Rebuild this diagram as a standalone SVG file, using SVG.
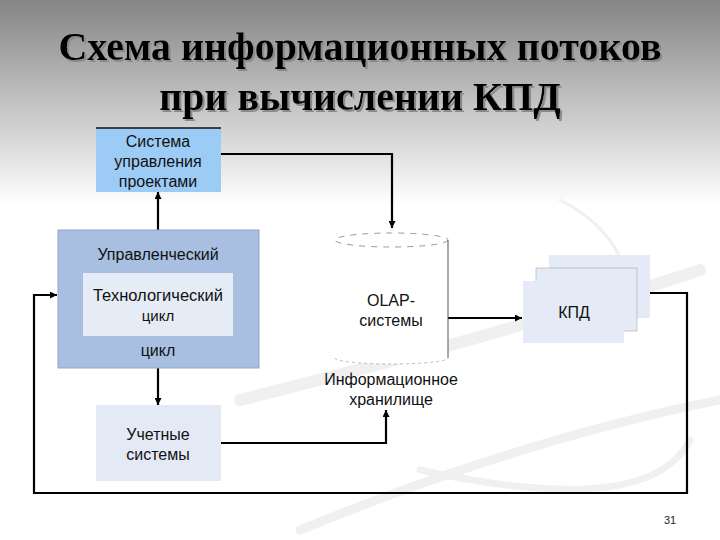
<svg xmlns="http://www.w3.org/2000/svg" width="720" height="540" viewBox="0 0 720 540">
<defs>
<linearGradient id="bg" x1="0" y1="0" x2="0" y2="1">
<stop offset="0" stop-color="#858585"/>
<stop offset="0.38" stop-color="#ffffff"/>
<stop offset="1" stop-color="#ffffff"/>
</linearGradient>
<filter id="sh" x="-5%" y="-20%" width="110%" height="140%">
<feDropShadow dx="2" dy="2" stdDeviation="0.6" flood-color="#8a8a8a"/>
</filter>
<marker id="ah" viewBox="0 0 10 10" refX="10" refY="5" markerWidth="7" markerHeight="7" orient="auto" markerUnits="userSpaceOnUse">
<path d="M0,0 L10,5 L0,10 z" fill="#000"/>
</marker>
<style>
.t{font-family:"Liberation Sans",Arial,sans-serif;font-size:16px;fill:#111;text-anchor:middle}
.title{font-weight:bold;font-size:40px;text-anchor:middle;fill:#000}
.c{fill:none;stroke:#000;stroke-width:2.2}
.deco{fill:none;stroke:#f0f0f0;stroke-linecap:round}
</style>
</defs>
<rect width="720" height="540" fill="url(#bg)"/>
<g id="decor">
<path class="deco" d="M240 400 Q520 330 700 270" stroke-width="12"/>
<path class="deco" d="M300 530 Q520 440 720 400" stroke-width="9"/>
<path class="deco" d="M420 470 Q650 520 690 440" stroke-width="7"/>
<path class="deco" d="M560 200 Q640 240 630 330" stroke-width="3"/>
</g>
<g id="title" filter="url(#sh)" font-family="'Liberation Serif', 'DejaVu Serif', 'Times New Roman', serif">
<text class="title" x="360" y="60">Схема информационных потоков</text>
<text class="title" x="360" y="110">при вычислении КПД</text>
</g>
<g id="connectors">
<path class="c" d="M221 154 H392 V228" marker-end="url(#ah)"/>
<path class="c" d="M158 230 V192" marker-end="url(#ah)"/>
<path class="c" d="M158 368 V405" marker-end="url(#ah)"/>
<path class="c" d="M221 443 H386 V410" marker-end="url(#ah)"/>
<path class="c" d="M448 318 H522" marker-end="url(#ah)"/>
<path class="c" d="M650 293 H687 V493 H34 V295 H57" marker-end="url(#ah)"/>
</g>
<g id="spu">
<rect x="96" y="128" width="125" height="64" fill="#9ccbf5"/>
<line x1="96" y1="128" x2="221" y2="128" stroke="#111" stroke-width="1.5"/>
<text class="t" x="158" y="147">Система</text>
<text class="t" x="158" y="167">управления</text>
<text class="t" x="158" y="187">проектами</text>
</g>
<g id="upr">
<rect x="58" y="230" width="201" height="138" fill="#a8bfe1" stroke="#8fa6c8" stroke-width="1"/>
<text class="t" x="158" y="260">Управленческий</text>
<rect x="83" y="273" width="150" height="63" fill="#e6ecf6"/>
<text class="t" x="158" y="301" style="font-size:16.5px">Технологический</text>
<text class="t" x="158" y="321" style="font-size:15px">цикл</text>
<text class="t" x="158" y="356">цикл</text>
</g>
<g id="uchet">
<rect x="96" y="405" width="125" height="76" fill="#e3eaf5"/>
<text class="t" x="158" y="440">Учетные</text>
<text class="t" x="158" y="460">системы</text>
</g>
<g id="olap">
<path d="M335 240 V358 A56.5 6 0 0 0 448 358 V240 Z" fill="#fff"/>
<ellipse cx="391.5" cy="240" rx="56.5" ry="7" fill="#fff" stroke="#999" stroke-width="1" stroke-dasharray="6 6"/>
<line x1="448" y1="240" x2="448" y2="358" stroke="#555" stroke-width="1"/>
<path d="M335 358 A56.5 6 0 0 0 448 358" fill="none" stroke="#bbb" stroke-width="1" stroke-dasharray="3 3"/>
<text class="t" x="391" y="306">OLAP-</text>
<text class="t" x="391" y="326">системы</text>
<text class="t" x="391" y="385">Информационное</text>
<text class="t" x="391" y="405">хранилище</text>
</g>
<g id="kpd">
<rect x="549" y="255" width="101" height="63" fill="#e4ebf7"/>
<rect x="536" y="268" width="101" height="63" fill="#e4ebf7" stroke="#999" stroke-width="0.5"/>
<rect x="523" y="281" width="101" height="62" fill="#e4ebf7"/>
<text class="t" x="574" y="318">КПД</text>
</g>
<text x="670" y="524" style="font-family:'Liberation Sans',Arial,sans-serif;font-size:11px;text-anchor:middle;fill:#222">31</text>
</svg>
